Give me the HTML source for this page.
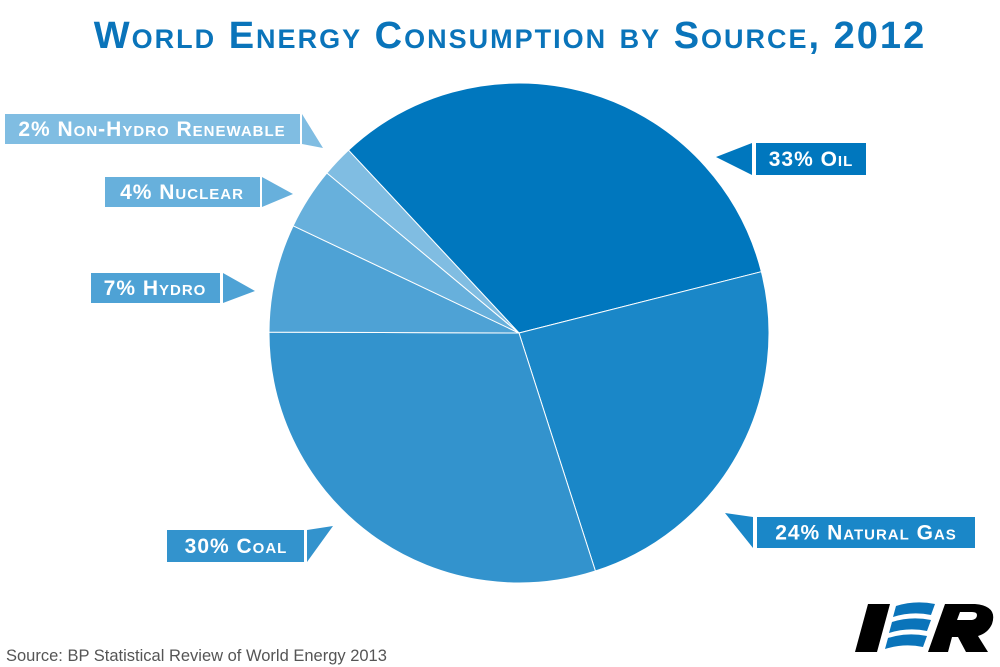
<!DOCTYPE html>
<html><head><meta charset="utf-8"><style>
body{margin:0;background:#fff;width:1000px;height:667px;overflow:hidden}
svg{display:block}
.lbl{font-family:"Liberation Sans",sans-serif;font-weight:bold;font-variant:small-caps;fill:#fff;font-size:21px;letter-spacing:1px}
</style></head><body>
<svg width="1000" height="667">
<text x="510" y="48" text-anchor="middle" style="font-family:'Liberation Sans',sans-serif;font-weight:bold;font-variant:small-caps;font-size:38px;fill:#0a74ba;letter-spacing:2px">World Energy Consumption by Source, 2012</text>
<g id="slices"></g>
<g id="labels"></g>
<text x="6" y="661" style="font-family:'Liberation Sans',sans-serif;font-size:16.5px;fill:#555">Source: BP Statistical Review of World Energy 2013</text>
<g>
<polygon points="868,604 890,604 877,652 855,652" fill="#000"/>
<path d="M896,606 Q915,600 935,604 L931,615 Q912,611 893,617 Z" fill="#0a74ba"/>
<path d="M892,622 Q911,616 931,620 L927,631 Q908,627 889,633 Z" fill="#0a74ba"/>
<path d="M888,638 Q907,632 927,636 L923,647 Q904,643 885,649 Z" fill="#0a74ba"/>
<path d="M945,604 L975,604 Q998,606 992,624 Q988,633 978,636 L988,652 L966,652 L958,637 L952,637 L948,652 L928,652 Z M957,620 L972,620 Q977,619 977,615 Q977,612 972,612 L960,612 Z" fill="#000" fill-rule="evenodd"/>
</g>
</svg>
<script>
const categories=["Oil","Natural Gas","Coal","Hydro","Nuclear","Non-Hydro Renewable"];
const values=[33,24,30,7,4,2];
const labelTexts=["33% Oil","24% Natural Gas","30% Coal","7% Hydro","4% Nuclear","2% Non-Hydro Renewable"];
const colors=["#0077be","#1a87c8","#3393cd","#4ea2d5","#67b0dc","#80bde2"];
const NS="http://www.w3.org/2000/svg";
const cx=519,cy=333,r=250,startDeg=-43;
const total=values.reduce((a,b)=>a+b,0);
function pt(deg){const a=deg*Math.PI/180;return [cx+r*Math.sin(a),cy-r*Math.cos(a)];}
let acc=startDeg;
const g=document.getElementById('slices');
values.forEach((v,i)=>{
 const span=v/total*360;const p1=pt(acc),p2=pt(acc+span);
 const p=document.createElementNS(NS,'path');
 p.setAttribute('d',`M${cx},${cy} L${p1[0]},${p1[1]} A${r},${r} 0 ${span>180?1:0} 1 ${p2[0]},${p2[1]} Z`);
 p.setAttribute('fill',colors[i]);p.setAttribute('stroke','#fff');p.setAttribute('stroke-width','1');
 
 
 g.appendChild(p);acc+=span;
});
const boxes=[
 {x:756,y:143,w:110,h:32,tail:"752,143 716,157 752,175",tx:811},
 {x:757,y:517,w:218,h:31,tail:"753,517 725,513 753,548",tx:866},
 {x:167,y:530,w:137,h:32,tail:"307,530 333,526 307,562",tx:236},
 {x:91,y:273,w:129,h:30,tail:"223,273 255,291 223,303",tx:155},
 {x:105,y:177,w:155,h:30,tail:"262,177 293,194 262,207",tx:182},
 {x:5,y:114,w:295,h:30,tail:"302,114 323,148 302,144",tx:152}
];
const lg=document.getElementById('labels');
boxes.forEach((b,i)=>{
 const grp=document.createElementNS(NS,'g');
 
 
 const rc=document.createElementNS(NS,'rect');
 rc.setAttribute('x',b.x);rc.setAttribute('y',b.y);rc.setAttribute('width',b.w);rc.setAttribute('height',b.h);rc.setAttribute('fill',colors[i]);
 const tp=document.createElementNS(NS,'polygon');
 tp.setAttribute('points',b.tail);tp.setAttribute('fill',colors[i]);
 const t=document.createElementNS(NS,'text');
 t.setAttribute('x',b.tx);t.setAttribute('y',b.y+b.h/2+7);t.setAttribute('text-anchor','middle');t.setAttribute('class','lbl');
 t.textContent=labelTexts[i];
 grp.appendChild(rc);grp.appendChild(tp);grp.appendChild(t);lg.appendChild(grp);
});
</script>
</body></html>
